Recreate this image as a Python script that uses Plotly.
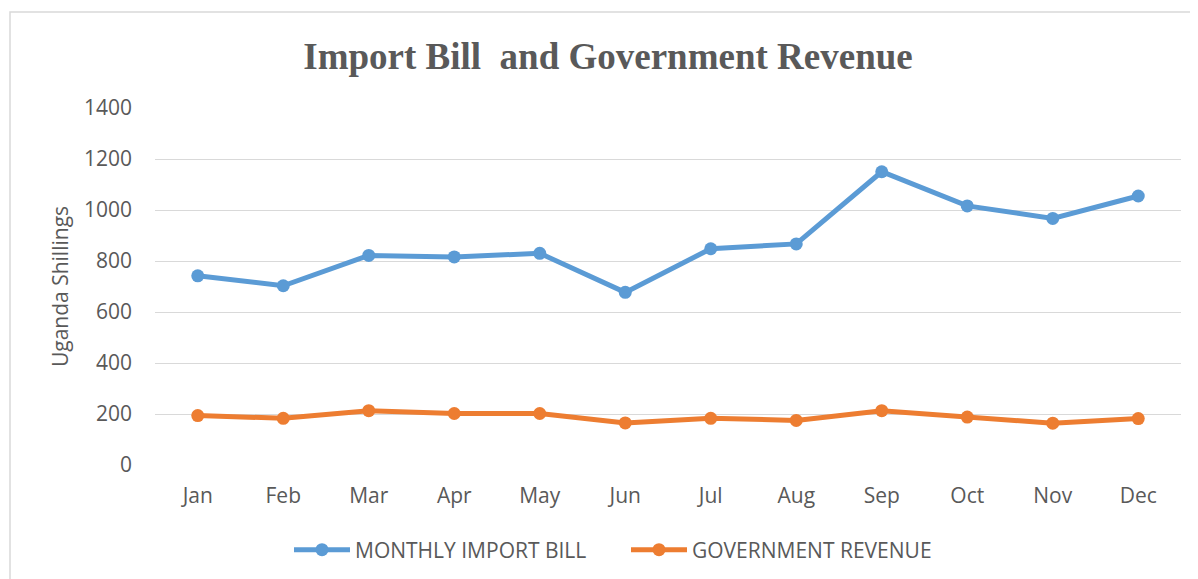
import plotly.graph_objects as go

# данные
months = ["Jan", "Feb", "Mar", "Apr", "May", "Jun", "Jul", "Aug", "Sep", "Oct", "Nov", "Dec"]
import_bill = [742, 703, 822, 816, 830, 677, 848, 867, 1150, 1016, 967, 1055]
gov_revenue = [194, 183, 213, 202, 202, 165, 183, 175, 213, 188, 164, 182]
y_ticks = [0, 200, 400, 600, 800, 1000, 1200, 1400]

text_font = "Open Sans, Lato, sans-serif"
gray = "#595959"

# страница имеет отступ 8px, поэтому всё сдвинуто на 8px влево и вверх
fig = go.Figure()
fig.add_trace(go.Scatter(
    x=months, y=import_bill, name="MONTHLY IMPORT BILL",
    mode="lines+markers",
    line=dict(color="#5b9bd5", width=5),
    marker=dict(size=13, color="#5b9bd5"),
))
fig.add_trace(go.Scatter(
    x=months, y=gov_revenue, name="GOVERNMENT REVENUE",
    mode="lines+markers",
    line=dict(color="#ed7d31", width=5),
    marker=dict(size=13, color="#ed7d31"),
))

fig.update_layout(
    width=1198, height=579,
    margin=dict(l=147, r=25, t=100, b=122),
    paper_bgcolor="white", plot_bgcolor="white",
    font=dict(family=text_font, size=21, color=gray),
    title=dict(
        text="<b>Import Bill  and Government Revenue</b>",
        font=dict(family="Liberation Serif, Times New Roman, serif", size=37, color=gray),
        x=600 / 1198, xref="container", xanchor="center",
        y=1 - 48 / 579, yref="container", yanchor="middle",
    ),
    showlegend=True,
    legend=dict(
        orientation="h", x=(618 - 147) / 1026, xanchor="center",
        y=(457 - 542) / 357, yanchor="middle",
        font=dict(size=21, color=gray),
        itemwidth=56, entrywidth=266,
    ),
    shapes=[dict(
        type="rect", xref="paper", yref="paper",
        x0=(2 - 147) / 1026, x1=1.05, y0=-0.5, y1=(457 - 4) / 357,
        line=dict(color="#d9d9d9", width=1.5), fillcolor="rgba(0,0,0,0)", layer="below",
    )],
)

fig.update_xaxes(
    type="category", range=[-0.5, 11.5],
    showgrid=False, showline=False, zeroline=False,
    ticks="", ticklabelstandoff=16,
    tickfont=dict(size=21, color=gray),
)
fig.update_yaxes(
    range=[0, 1400], tickvals=y_ticks,
    showgrid=True, gridcolor="#d9d9d9", gridwidth=1.3,
    zeroline=False, showline=False,
    ticks="", ticklabelstandoff=22,
    tickfont=dict(size=21, color=gray),
    title=dict(text="Uganda Shillings", font=dict(size=21, color=gray), standoff=9),
)

fig.write_html("out.html")
